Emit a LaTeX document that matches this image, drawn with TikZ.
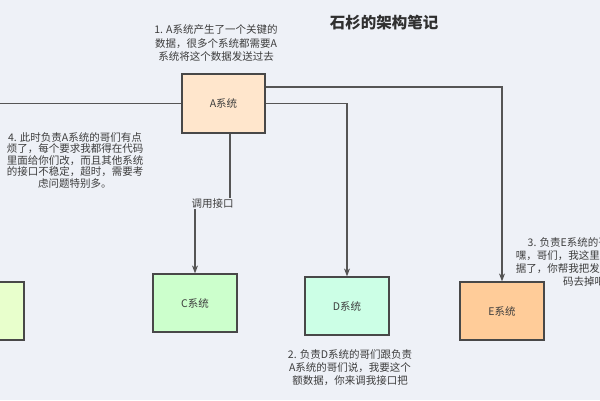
\documentclass[tikz,border=0pt]{standalone}
\usepackage{fontspec}
\setmainfont{Noto Sans CJK SC}
\usepackage{xcolor}
\definecolor{bgcol}{RGB}{238,241,247}
\definecolor{linecol}{RGB}{85,85,85}
\definecolor{txtcol}{RGB}{60,60,60}
\definecolor{afill}{RGB}{255,230,204}
\definecolor{bfill}{RGB}{232,255,204}
\definecolor{cfill}{RGB}{204,255,204}
\definecolor{dfill}{RGB}{204,255,230}
\definecolor{efill}{RGB}{255,204,153}
\usepackage{tikz}
\usetikzlibrary{arrows.meta, calc}
\tikzstyle{sysbox} = [
    draw=linecol!85!black, line width=1.2pt,
    minimum width=84pt, minimum height=58pt,
    text=txtcol, font=\fontsize{10.5}{12}\selectfont,
]
\tikzstyle{note} = [align=center, text=txtcol, font=\fontsize{10.5}{13}\selectfont]
\tikzstyle{conn} = [draw=linecol, line width=1.2pt]
\tikzstyle{arrow} = [->,>={Stealth[length=8pt,width=6pt]}]

\begin{document}
\begin{tikzpicture}[x=1pt,y=-1pt]
    \fill[bgcol] (0,0) rectangle (600,400);
    \useasboundingbox (0,0) rectangle (600,400);

    % title
    \node (title) at (384,23) [text=txtcol!80!black, font=\fontsize{15.5}{18}\bfseries] {石杉的架构笔记};

    % systems
    \node (A) at (223.5,103.5) [sysbox, fill=afill, minimum width=83pt, minimum height=59pt] {A系统};
    \node (B) at (-18,311) [sysbox, fill=bfill] {};
    \node (C) at (195,303) [sysbox, fill=cfill] {C系统};
    \node (D) at (347,306) [sysbox, fill=dfill] {D系统};
    \node (E) at (502,311) [sysbox, fill=efill] {E系统};
    \coordinate (Bend) at (0,103.5);

    % connectors
    \draw[conn] (A.west) -- (Bend);
    \draw[conn, arrow] ([yshift=16.5pt]A.east) -| (E.north);
    \draw[conn, arrow] (A.east) -| (D.north);
    \draw[conn, arrow] ([xshift=6.5pt]A.south) -- ++(0,70)
        -| node[pos=0.25, fill=bgcol, inner sep=1pt, text=txtcol, font=\fontsize{10.5}{12}\selectfont] {调用接口} (C.north);

    % notes
    \node (n1) at (216,43) [note] {1. A系统产生了一个关键的\\数据，很多个系统都需要A\\系统将这个数据发送过去};
    \node (n4) at (75,160.5) [note, font=\fontsize{10.5}{11.5}\selectfont] {4. 此时负责A系统的哥们有点\\烦了，每个要求我都得在代码\\里面给你们改，而且其他系统\\的接口不稳定，超时，需要考\\虑问题特别多。};
    \node (n2) at (350,368) [note] {2. 负责D系统的哥们跟负责\\A系统的哥们说，我要这个\\额数据，你来调我接口把};
    \node (n3) at (584,262) [note] {3. 负责E系统的哥们说：\\嘿，哥们，我这里不要这个数\\据了，你帮我把发送数据的代\\码去掉吧};

\end{tikzpicture}
\end{document}
